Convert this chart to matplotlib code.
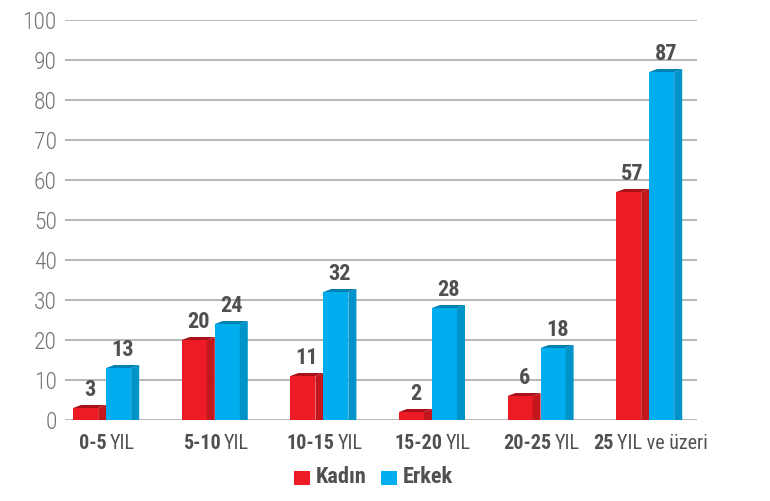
import matplotlib
matplotlib.use('Agg')
import matplotlib.pyplot as plt
from matplotlib.patches import Polygon, Rectangle
from matplotlib import font_manager
from matplotlib.transforms import offset_copy

# Data
categories_bold = ['0-5', '5-10', '10-15', '15-20', '20-25', '25']
categories_rest = ['YIL', 'YIL', 'YIL', 'YIL', 'YIL', 'YIL ve üzeri']
kadin = [3, 20, 11, 2, 6, 57]
erkek = [13, 24, 32, 28, 18, 87]
yticks = list(range(0, 101, 10))

names = {f.name for f in font_manager.fontManager.ttflist}
cond = 'DejaVu Sans'
for cand in ['Liberation Sans Narrow', 'Roboto Condensed', 'Open Sans Condensed']:
    if cand in names:
        cond = cand
        break
plt.rcParams['font.family'] = [cond, 'DejaVu Sans']
stretch = 'condensed'

red_front, red_side, red_top = '#ED1C24', '#C4161D', '#A8111A'
blue_front, blue_side, blue_top = '#00AEEF', '#0093C9', '#0080B0'
txt_col = '#505050'
tick_col = '#737373'

fig = plt.figure(figsize=(7.7, 5.01), dpi=100)
ax = fig.add_axes([65 / 770, 81 / 501, 632 / 770, 400 / 501])
ax.set_xlim(-0.379, 5.44)
ax.set_ylim(0, 100)

px = 1 / 108.6  # data units per pixel (x)
w = 25 * px
d = 8 * px
dy = 0.75


def bar3d(x0, h, front, side, top):
    ax.add_patch(Rectangle((x0, 0), w, h, facecolor=front, edgecolor='none', zorder=3))
    ax.add_patch(Polygon([(x0 + w, 0), (x0 + w, h), (x0 + w + d, h + dy), (x0 + w + d, 0)],
                         closed=True, facecolor=side, edgecolor='none', zorder=3))
    ax.add_patch(Polygon([(x0, h), (x0 + d, h + dy), (x0 + w + d, h + dy), (x0 + w, h)],
                         closed=True, facecolor=top, edgecolor='none', zorder=3))
    ax.annotate(str(h), xy=(x0 + (w + d) / 2, h + dy), xytext=(0, 3), textcoords='offset points',
                ha='center', va='bottom', fontsize=16, fontweight='bold', color=txt_col,
                fontstretch=stretch, zorder=4)


for i in range(len(kadin)):
    bar3d(i - 33 * px, kadin[i], red_front, red_side, red_top)
    bar3d(i, erkek[i], blue_front, blue_side, blue_top)

# grid
for y in yticks:
    ax.axhline(y, color='#aaaaaa', lw=1.2, zorder=1)
for s in ax.spines.values():
    s.set_visible(False)
ax.set_yticks(yticks)
ax.set_yticklabels([str(y) for y in yticks], fontsize=17, color=tick_col,
                   fontstretch=stretch, fontweight='light')
ax.tick_params(axis='y', length=0, pad=6)
ax.set_xticks([])

# x labels: bold part + regular part, centered on group
fig.canvas.draw()
r = fig.canvas.get_renderer()
gap = 3
for i in range(len(kadin)):
    c = i + 1 * px
    t1 = ax.text(c, 0, categories_bold[i], fontsize=14.5, fontweight='bold', color=txt_col,
                 fontstretch=stretch, ha='left', va='top')
    t2 = ax.text(c, 0, categories_rest[i], fontsize=14.5, color=txt_col,
                 fontstretch=stretch, ha='left', va='top')
    w1 = t1.get_window_extent(r).width
    w2 = t2.get_window_extent(r).width
    tot = w1 + gap + w2
    t1.set_transform(offset_copy(ax.transData, fig=fig, x=-tot / 2, y=-14, units='dots'))
    t2.set_transform(offset_copy(ax.transData, fig=fig, x=-tot / 2 + w1 + gap, y=-14, units='dots'))

# legend
fig.patches.append(Rectangle((294 / 770, (501 - 485) / 501), 16 / 770, 14 / 501,
                             transform=fig.transFigure, facecolor=red_front, edgecolor='none'))
fig.text(316 / 770, (501 - 477) / 501, 'Kadın', fontsize=16, fontweight='bold', color=txt_col,
         fontstretch=stretch, va='center', ha='left')
fig.patches.append(Rectangle((381 / 770, (501 - 485) / 501), 16 / 770, 14 / 501,
                             transform=fig.transFigure, facecolor=blue_front, edgecolor='none'))
fig.text(403 / 770, (501 - 477) / 501, 'Erkek', fontsize=16, fontweight='bold', color=txt_col,
         fontstretch=stretch, va='center', ha='left')

fig.savefig('out.png', dpi=100)
